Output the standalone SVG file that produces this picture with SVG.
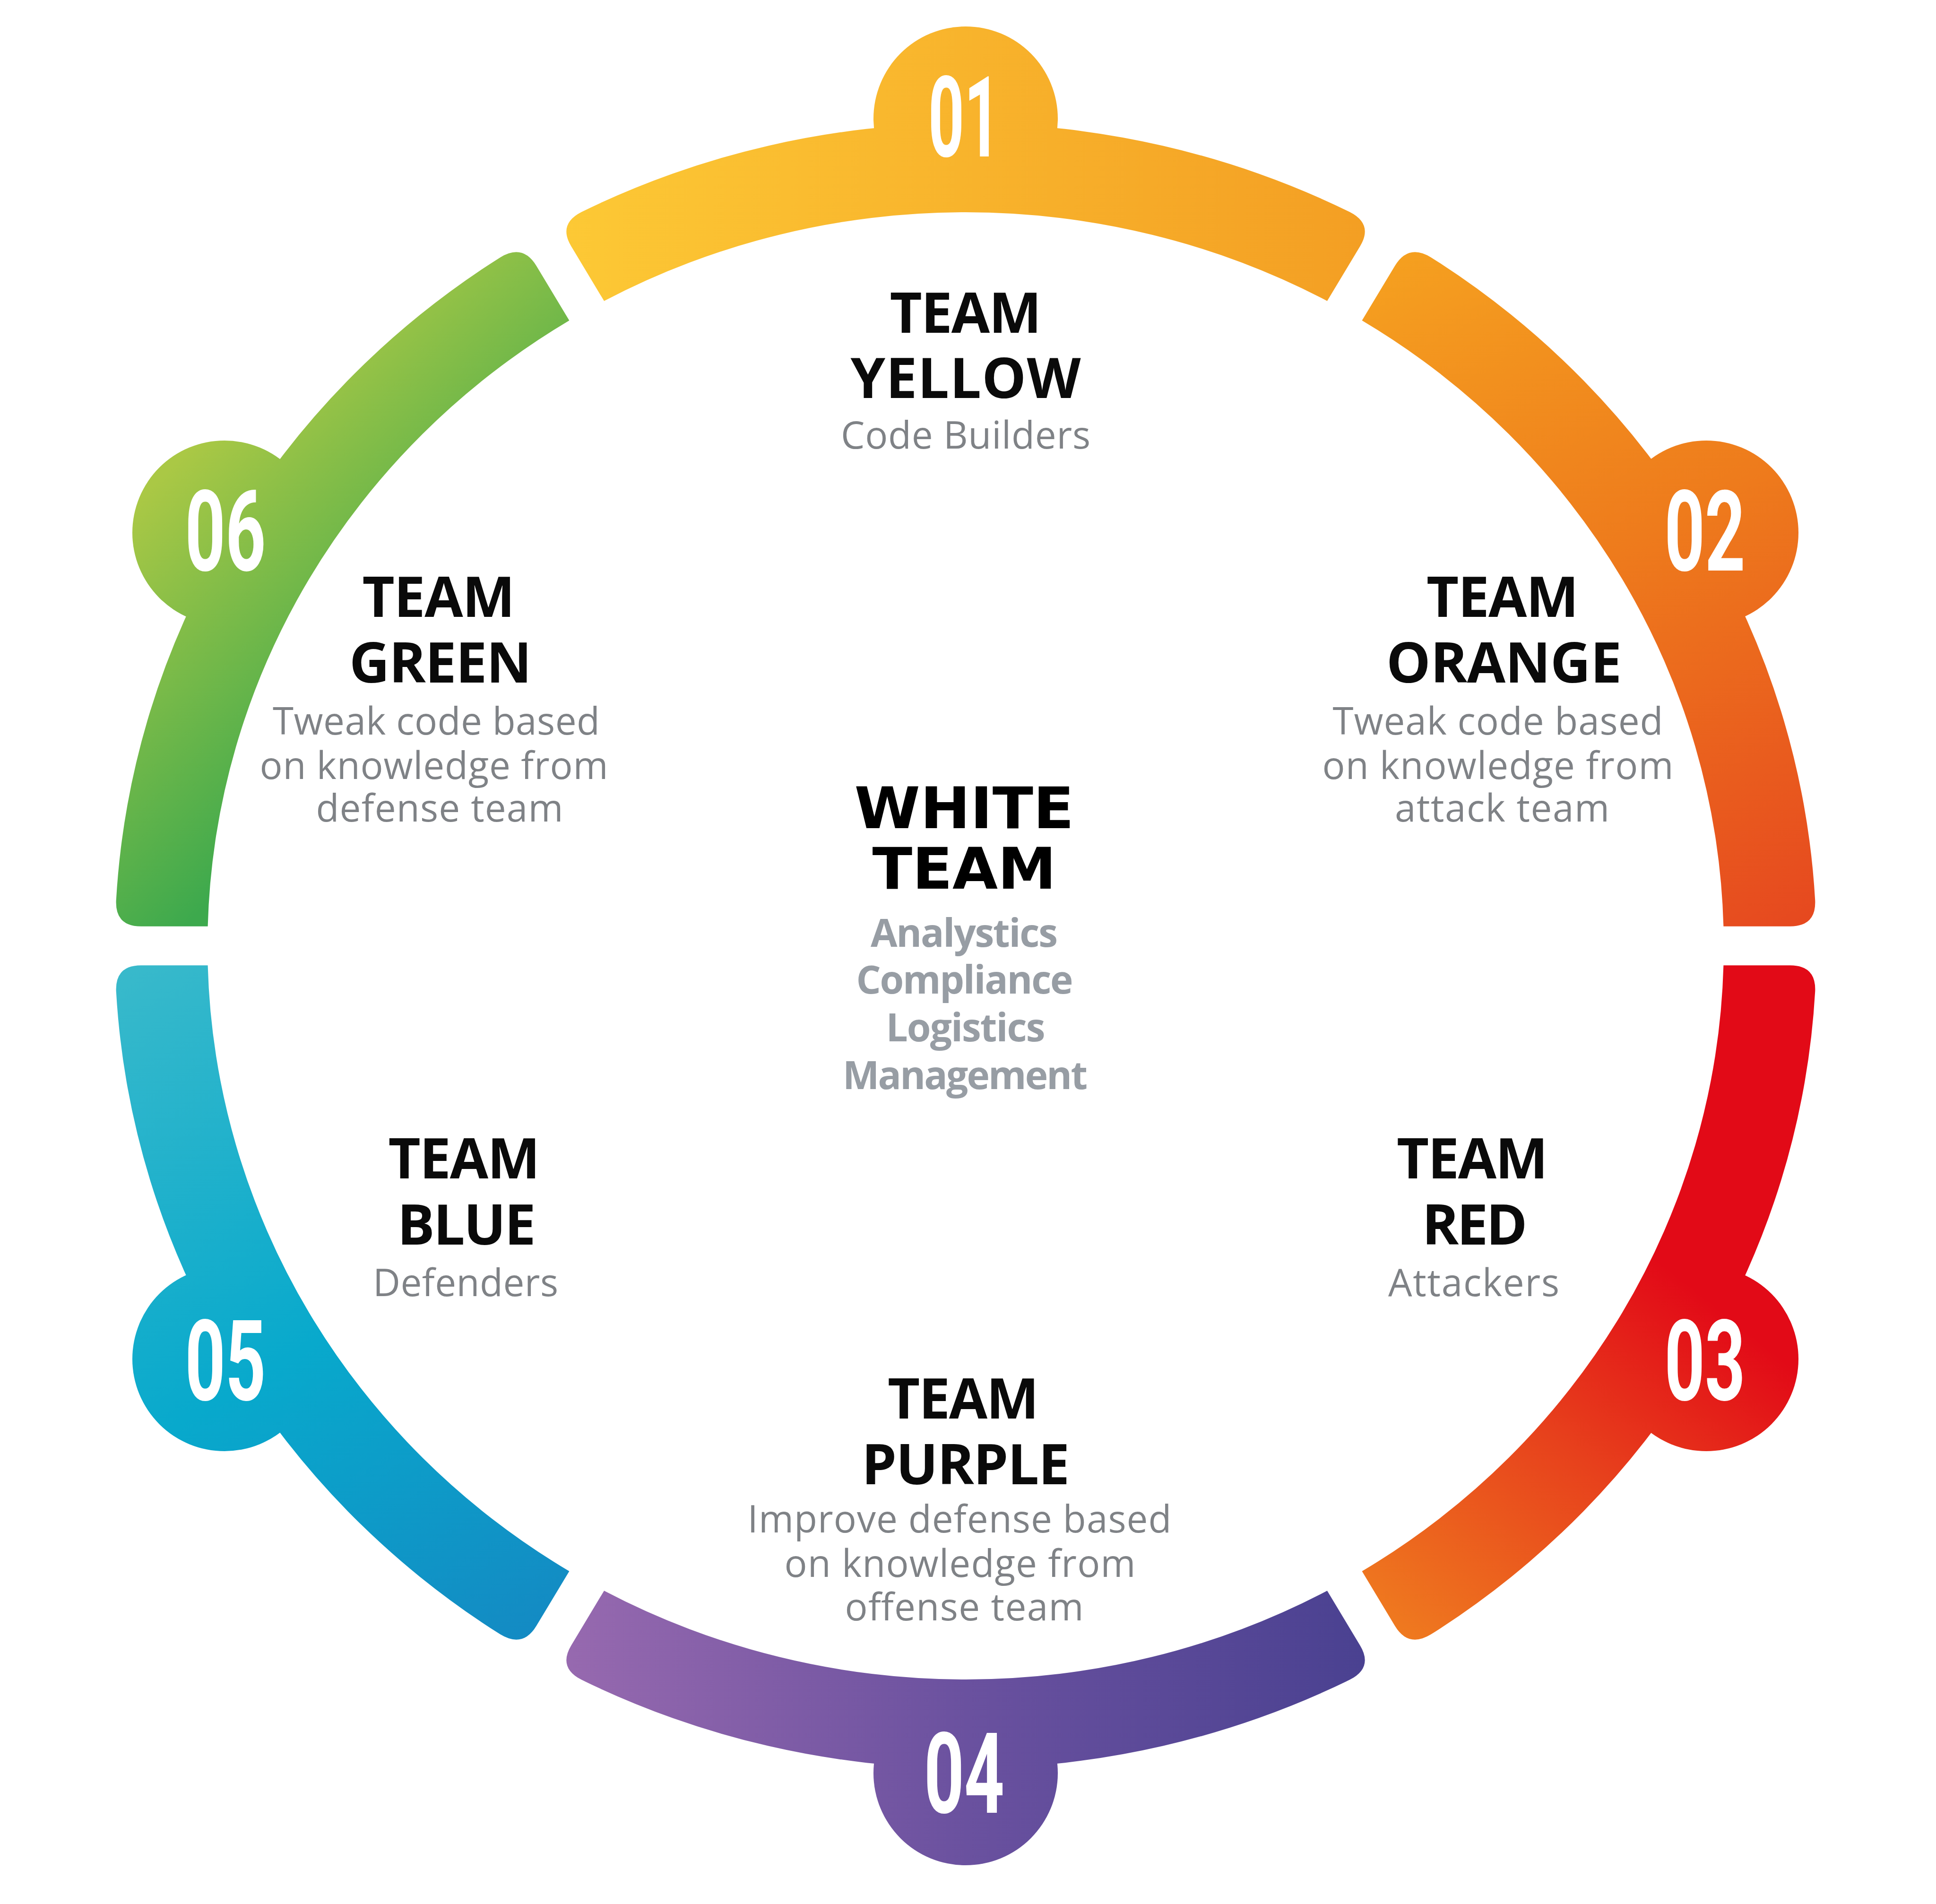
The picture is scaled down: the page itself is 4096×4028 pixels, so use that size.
<svg xmlns="http://www.w3.org/2000/svg" width="4096" height="4028" viewBox="0 0 4096 4028">
<style>
.title{font-family:"Open Sans","Liberation Sans",sans-serif;font-weight:700;font-size:118px;fill:#0a0a0a;text-anchor:middle}
.sub{font-family:"Open Sans","Liberation Sans",sans-serif;font-weight:400;font-size:80px;fill:#7f8286;text-anchor:middle}
.num{font-family:Roboto,"Liberation Sans",sans-serif;font-weight:700;font-size:238px;fill:#ffffff;text-anchor:middle}
.wt{font-family:"DejaVu Sans","Open Sans",sans-serif;font-weight:700;font-size:122px;fill:#000000;text-anchor:middle}
.ws{font-family:"Open Sans","Liberation Sans",sans-serif;font-weight:700;font-size:82px;fill:#979da4;text-anchor:middle}
</style>
<defs>
<linearGradient id="gy" gradientUnits="userSpaceOnUse" x1="1100" y1="0" x2="2990" y2="0">
<stop offset="0" stop-color="#fdcb36"/><stop offset="1" stop-color="#f39c22"/>
</linearGradient>
<linearGradient id="go" gradientUnits="userSpaceOnUse" x1="2900" y1="450" x2="3750" y2="1980">
<stop offset="0" stop-color="#f6a520"/><stop offset="0.5" stop-color="#ee7b1c"/><stop offset="1" stop-color="#e6491f"/>
</linearGradient>
<linearGradient id="gr" gradientUnits="userSpaceOnUse" x1="2950" y1="3450" x2="3550" y2="2700">
<stop offset="0" stop-color="#ef7a1f"/><stop offset="0.55" stop-color="#e7411c"/><stop offset="1" stop-color="#e20a17"/>
</linearGradient>
<linearGradient id="gp" gradientUnits="userSpaceOnUse" x1="1100" y1="0" x2="2990" y2="0">
<stop offset="0" stop-color="#9c6cb1"/><stop offset="0.5" stop-color="#6a519f"/><stop offset="1" stop-color="#463f8f"/>
</linearGradient>
<linearGradient id="gb" gradientUnits="userSpaceOnUse" x1="280" y1="2050" x2="1180" y2="3550">
<stop offset="0" stop-color="#38b9cb"/><stop offset="0.5" stop-color="#08a9cc"/><stop offset="1" stop-color="#1586c2"/>
</linearGradient>
<linearGradient id="gg" gradientUnits="userSpaceOnUse" x1="350" y1="1000" x2="850" y2="1500">
<stop offset="0" stop-color="#aac845"/><stop offset="1" stop-color="#3da94d"/>
</linearGradient>
</defs>
<rect x="0" y="0" width="4096" height="4028" fill="#ffffff"/>

<g id="team-yellow">
<path fill="url(#gy)" d="M 2855.7 448.4 A 1800 1740 0 0 0 1230.3 448.4 Q 1180.2 473.9 1208.5 521.0 L 1278.1 636.8 A 1604 1552 0 0 1 2807.9 636.8 L 2877.5 521.0 Q 2905.8 473.9 2855.7 448.4 Z"/>
<circle cx="2043" cy="251" r="195" fill="url(#gy)"/>
<text class="num" x="2040" y="331" textLength="152" lengthAdjust="spacingAndGlyphs">01</text>
<text class="title" x="2043" y="704" textLength="321">TEAM</text>
<text class="title" x="2043" y="842" textLength="487">YELLOW</text>
<text class="sub" x="2043" y="949" textLength="528">Code Builders</text>
</g>

<g id="team-orange">
<path fill="url(#go)" d="M 3840.3 1905.1 A 1800 1740 0 0 0 3027.5 544.4 Q 2979.7 515.2 2951.3 562.3 L 2881.6 678.0 A 1604 1552 0 0 1 3646.4 1959.8 L 3787.5 1959.7 Q 3842.5 1959.7 3840.3 1905.1 Z"/>
<circle cx="3610" cy="1127" r="195" fill="url(#go)"/>
<text class="num" x="3607" y="1207" textLength="171" lengthAdjust="spacingAndGlyphs">02</text>
<text class="title" x="3179" y="1305" textLength="322">TEAM</text>
<text class="title" x="3182" y="1444" textLength="498">ORANGE</text>
<text class="sub" x="3169" y="1554" textLength="699">Tweak code based</text>
<text class="sub" x="3169" y="1648" textLength="743">on knowledge from</text>
<text class="sub" x="3178" y="1738" textLength="454">attack team</text>
</g>

<g id="team-red">
<path fill="url(#gr)" d="M 3027.5 3457.6 A 1800 1740 0 0 0 3840.3 2096.9 Q 3842.5 2042.3 3787.5 2042.3 L 3646.4 2042.2 A 1604 1552 0 0 1 2881.6 3324.0 L 2951.3 3439.7 Q 2979.7 3486.8 3027.5 3457.6 Z"/>
<circle cx="3610" cy="2875" r="195" fill="url(#gr)"/>
<text class="num" x="3607" y="2962" textLength="171" lengthAdjust="spacingAndGlyphs">03</text>
<text class="title" x="3115" y="2493" textLength="320">TEAM</text>
<text class="title" x="3120" y="2633" textLength="223">RED</text>
<text class="sub" x="3118" y="2742" textLength="362">Attackers</text>
</g>

<g id="team-purple">
<path fill="url(#gp)" d="M 1230.3 3553.6 A 1800 1740 0 0 0 2855.7 3553.6 Q 2905.8 3528.1 2877.5 3481.0 L 2807.9 3365.2 A 1604 1552 0 0 1 1278.1 3365.2 L 1208.5 3481.0 Q 1180.2 3528.1 1230.3 3553.6 Z"/>
<circle cx="2043" cy="3751" r="195" fill="url(#gp)"/>
<text class="num" x="2040" y="3835" textLength="170" lengthAdjust="spacingAndGlyphs">04</text>
<text class="title" x="2038" y="3001" textLength="320">TEAM</text>
<text class="title" x="2043" y="3140" textLength="440">PURPLE</text>
<text class="sub" x="2030" y="3242" textLength="897">Improve defense based</text>
<text class="sub" x="2031" y="3336" textLength="743">on knowledge from</text>
<text class="sub" x="2040" y="3428" textLength="505">offense team</text>
</g>

<g id="team-blue">
<path fill="url(#gb)" d="M 245.7 2096.9 A 1800 1740 0 0 0 1058.5 3457.6 Q 1106.3 3486.8 1134.7 3439.7 L 1204.4 3324.0 A 1604 1552 0 0 1 439.6 2042.2 L 298.5 2042.3 Q 243.5 2042.3 245.7 2096.9 Z"/>
<circle cx="475" cy="2875" r="195" fill="url(#gb)"/>
<text class="num" x="477" y="2962" textLength="171" lengthAdjust="spacingAndGlyphs">05</text>
<text class="title" x="982" y="2493" textLength="321">TEAM</text>
<text class="title" x="987" y="2633" textLength="293">BLUE</text>
<text class="sub" x="985" y="2742" textLength="392">Defenders</text>
</g>

<g id="team-green">
<path fill="url(#gg)" d="M 1058.5 544.4 A 1800 1740 0 0 0 245.7 1905.1 Q 243.5 1959.7 298.5 1959.7 L 439.6 1959.8 A 1604 1552 0 0 1 1204.4 678.0 L 1134.7 562.3 Q 1106.3 515.2 1058.5 544.4 Z"/>
<circle cx="475" cy="1127" r="195" fill="url(#gg)"/>
<text class="num" x="477" y="1207" textLength="171" lengthAdjust="spacingAndGlyphs">06</text>
<text class="title" x="928" y="1305" textLength="323">TEAM</text>
<text class="title" x="932" y="1444" textLength="386">GREEN</text>
<text class="sub" x="923" y="1554" textLength="692">Tweak code based</text>
<text class="sub" x="918" y="1648" textLength="737">on knowledge from</text>
<text class="sub" x="930" y="1738" textLength="523">defense team</text>
</g>

<g id="white-team">
<text class="wt" x="2040" y="1752" textLength="465" lengthAdjust="spacingAndGlyphs">WHITE</text>
<text class="wt" x="2040" y="1880" textLength="389" lengthAdjust="spacingAndGlyphs">TEAM</text>
<text class="ws" x="2040" y="2003" textLength="396">Analystics</text>
<text class="ws" x="2041" y="2102" textLength="459">Compliance</text>
<text class="ws" x="2043" y="2203" textLength="337">Logistics</text>
<text class="ws" x="2042" y="2304" textLength="518">Management</text>
</g>
</svg>
